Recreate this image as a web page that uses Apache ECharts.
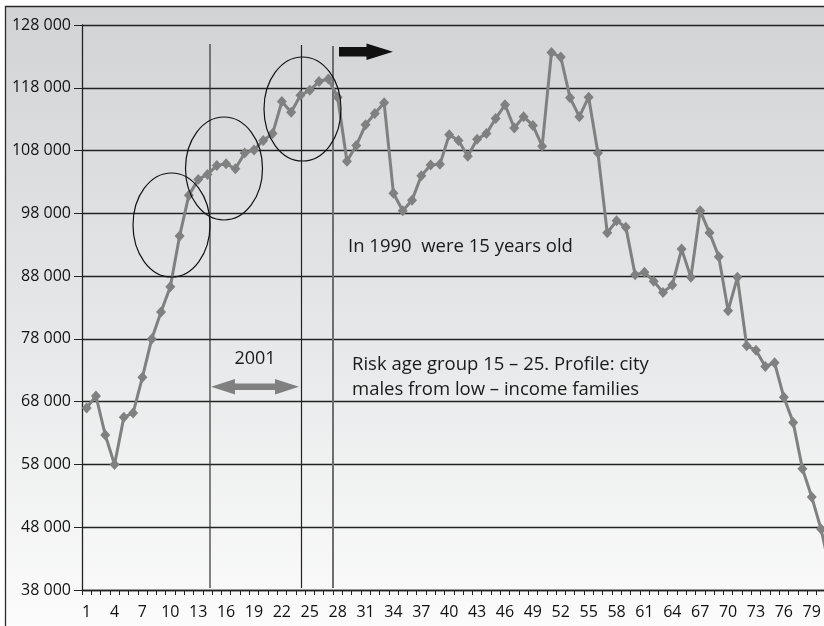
<!DOCTYPE html>
<html>
<head>
<meta charset="utf-8">
<script src="https://cdn.jsdelivr.net/npm/echarts@6/dist/echarts.min.js"></script>
<style>
  html, body { margin: 0; padding: 0; background: #fff; }
  #chart { width: 824px; height: 626px; }
</style>
</head>
<body>
<div id="chart"></div>
<script>
// age groups 1..81 (only 80 fit in the frame, the last one runs off the right edge)
var ages = Array.from({ length: 81 }, function (d, i) { return String(i + 1); });

var population = [
  67000, 68900, 62700, 58000, 65500, 66200, 71900, 78000, 82300, 86300,
  94400, 100900, 103400, 104200, 105600, 105900, 105100, 107600, 108100, 109600,
  110700, 115800, 114100, 116800, 117600, 119000, 119400, 116500, 106300, 108800,
  112100, 113900, 115600, 101200, 98400, 100100, 104000, 105700, 105800, 110500,
  109600, 107100, 109800, 110700, 113100, 115300, 111600, 113400, 112000, 108700,
  123600, 122900, 116400, 113400, 116500, 107600, 94900, 96800, 95800, 88200,
  88600, 87200, 85400, 86600, 92300, 87800, 98400, 94900, 91100, 82500,
  87800, 76900, 76200, 73600, 74200, 68700, 64700, 57300, 52800, 47700,
  41000
];

var yMin = 38000, yMax = 128000, yStep = 10000;

var FONT = '"Open Sans", "Noto Sans", sans-serif';

var myChart = echarts.init(document.getElementById('chart'));

myChart.setOption({
  animation: false,
  backgroundColor: '#ffffff',
  grid: { left: 82, top: 25, height: 565, width: 753, outerBoundsMode: 'none', containLabel: false },
  xAxis: {
    type: 'category',
    data: ages,
    boundaryGap: true,
    axisLine: { lineStyle: { color: '#222', width: 1.3 } },
    axisTick: { show: true, length: 5, interval: 0, lineStyle: { color: '#222' } },
    axisLabel: { interval: 2, color: '#111', fontSize: 16, fontFamily: FONT, margin: 14 },
    splitLine: { show: false }
  },
  yAxis: {
    type: 'value',
    min: yMin,
    max: yMax,
    interval: yStep,
    axisLine: { show: true, lineStyle: { color: '#222', width: 1.3 } },
    axisTick: { show: true, length: 8, lineStyle: { color: '#222' } },
    axisLabel: {
      color: '#111', fontSize: 16, fontFamily: FONT, margin: 11,
      formatter: function (v) { return (v / 1000) + ' 000'; }
    },
    splitLine: { show: true, lineStyle: { color: '#222', width: 1.3 } }
  },
  series: [{
    type: 'line',
    data: population,
    symbol: 'diamond',
    symbolSize: [10, 11],
    showAllSymbol: true,
    lineStyle: { color: '#808080', width: 3 },
    itemStyle: { color: '#808080' },
    z: 5
  }],
  graphic: [
    // frame with grey-to-white gradient
    {
      type: 'rect', z: -10, silent: true,
      shape: { x: 5.5, y: 6.5, width: 830, height: 640 },
      style: {
        fill: new echarts.graphic.LinearGradient(0, 0, 0, 1, [
          { offset: 0, color: '#d2d3d5' },
          { offset: 0.5, color: '#e6e7e8' },
          { offset: 1, color: '#fdfdfd' }
        ]),
        stroke: '#2a2a2a', lineWidth: 1.3
      }
    },
    // vertical marker lines
    { type: 'line', z: 3, silent: true, shape: { x1: 210, y1: 44, x2: 210, y2: 588 }, style: { stroke: '#333', lineWidth: 1.2 } },
    { type: 'line', z: 3, silent: true, shape: { x1: 301.5, y1: 45, x2: 301.5, y2: 588 }, style: { stroke: '#222', lineWidth: 1.2 } },
    { type: 'line', z: 3, silent: true, shape: { x1: 333, y1: 46, x2: 333, y2: 588 }, style: { stroke: '#6e6e6e', lineWidth: 2 } },
    // ellipses
    { type: 'ellipse', z: 6, silent: true, shape: { cx: 171.5, cy: 225, rx: 38.5, ry: 52 }, style: { fill: null, stroke: '#111', lineWidth: 1.2 } },
    { type: 'ellipse', z: 6, silent: true, shape: { cx: 224, cy: 168.5, rx: 38.5, ry: 51.5 }, style: { fill: null, stroke: '#111', lineWidth: 1.2 } },
    { type: 'ellipse', z: 6, silent: true, shape: { cx: 302.5, cy: 109, rx: 38.5, ry: 52 }, style: { fill: null, stroke: '#111', lineWidth: 1.2 } },
    // black arrow to the right
    {
      type: 'polygon', z: 6, silent: true,
      shape: { points: [[339, 47], [366.5, 47], [366.5, 43.5], [393, 51.7], [366.5, 60], [366.5, 56.5], [339, 56.5]] },
      style: { fill: '#111' }
    },
    // grey double arrow
    {
      type: 'polygon', z: 6, silent: true,
      shape: { points: [[211, 386.7], [235, 379], [235, 383.5], [275, 383.5], [275, 379], [299, 386.7], [275, 394.4], [275, 390], [235, 390], [235, 394.4]] },
      style: { fill: '#808080' }
    },
    // texts
    { type: 'text', z: 6, silent: true, x: 255, y: 359, style: { text: '2001', font: '18px ' + FONT, fill: '#1a1a1a', align: 'center', verticalAlign: 'middle' } },
    { type: 'text', z: 6, silent: true, x: 348, y: 246.5, style: { text: 'In 1990  were 15 years old', font: '18.5px ' + FONT, fill: '#1a1a1a', verticalAlign: 'middle' } },
    { type: 'text', z: 6, silent: true, x: 352, y: 365, style: { text: 'Risk age group 15 \u2013 25. Profile: city', font: '18.5px ' + FONT, fill: '#1a1a1a', verticalAlign: 'middle' } },
    { type: 'text', z: 6, silent: true, x: 352, y: 390, style: { text: 'males from low \u2013 income families', font: '18.5px ' + FONT, fill: '#1a1a1a', verticalAlign: 'middle' } }
  ]
});
</script>
</body>
</html>
